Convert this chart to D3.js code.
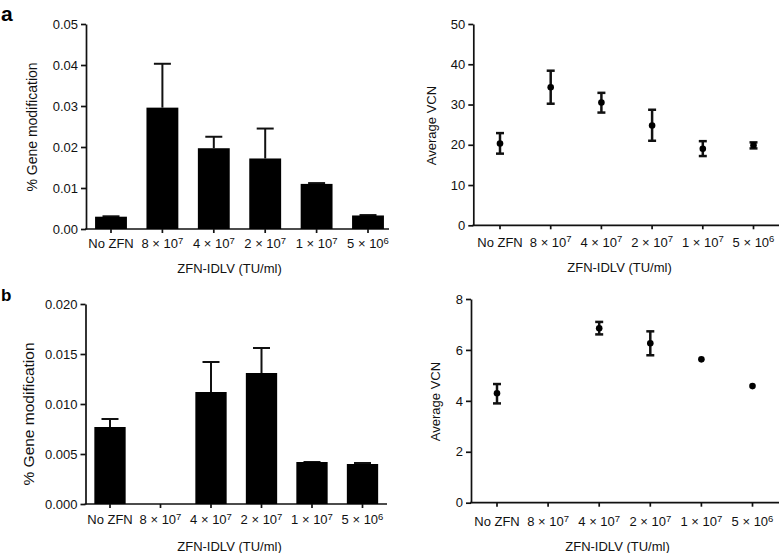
<!DOCTYPE html>
<html>
<head>
<meta charset="utf-8">
<script src="https://cdn.jsdelivr.net/npm/d3@7"></script>
<style>
  html, body { margin: 0; padding: 0; background: #fff; }
  svg { display: block; font-family: "Liberation Sans", Arial, Helvetica, sans-serif; }
</style>
</head>
<body>
<svg id="chart" width="780" height="553"></svg>
<script>
// ---------- data ----------
const categories = ["No ZFN", "8 × 10^7", "4 × 10^7", "2 × 10^7", "1 × 10^7", "5 × 10^6"];
const xTitle = "ZFN-IDLV (TU/ml)";

// panel a, left: % gene modification (bar + upper error)
const aGeneMod     = [0.0030, 0.0296, 0.0197, 0.0172, 0.0110, 0.0033];
const aGeneModErr  = [0.0031, 0.0403, 0.0225, 0.0245, 0.0112, 0.0034];
const aGeneTicks   = [0, 0.01, 0.02, 0.03, 0.04, 0.05];

// panel a, right: average VCN (mean, low, high)
const aVCN      = [20.3, 34.3, 30.5, 24.8, 19.0, 19.9];
const aVCNLow   = [17.8, 30.2, 28.0, 21.0, 17.2, 19.1];
const aVCNHigh  = [22.9, 38.4, 32.9, 28.7, 20.9, 20.6];
const aVCNTicks = [0, 10, 20, 30, 40, 50];

// panel b, left
const bGeneMod    = [0.0077, null, 0.0112, 0.0131, 0.0042, 0.0040];
const bGeneModErr = [0.0085, null, 0.0142, 0.0156, 0.0042, 0.0041];
const bGeneTicks  = [0, 0.005, 0.010, 0.015, 0.020];

// panel b, right
const bVCN      = [4.30, null, 6.85, 6.26, 5.63, 4.58];
const bVCNLow   = [3.90, null, 6.61, 5.79, 5.63, 4.58];
const bVCNHigh  = [4.66, null, 7.10, 6.73, 5.63, 4.58];
const bVCNTicks = [0, 2, 4, 6, 8];

// ---------- drawing ----------
const svg = d3.select("#chart");
const ink = "#111";

function addTickLabel(sel) {
  sel.each(function(d) {
    const t = d3.select(this);
    t.text(null);
    const parts = d.split("^");
    t.append("tspan").text(parts[0]);
    if (parts.length > 1) {
      t.append("tspan").attr("dy", "-0.45em").attr("font-size", "9.5px").text(parts[1]);
    }
  });
}

function panel(cfg) {
  const g = svg.append("g");
  const x = d3.scaleBand().domain(categories)
    .range([cfg.r0, cfg.r0 + 6 * cfg.step])
    .paddingInner(0.38).paddingOuter(0.19);
  const y = d3.scaleLinear().domain([0, cfg.ticks[cfg.ticks.length - 1]])
    .range([cfg.yBottom, cfg.yTop]);

  // y axis
  const ya = g.append("g").attr("transform", `translate(${cfg.axisX},0)`)
    .call(d3.axisLeft(y).tickValues(cfg.ticks).tickFormat(d3.format(cfg.fmt))
      .tickSize(5).tickSizeOuter(0).tickPadding(3));
  ya.selectAll("path, line").attr("stroke", ink).attr("stroke-width", 1.7);
  ya.selectAll("text").attr("font-size", "13px").attr("fill", ink).attr("font-family", null);

  // x axis
  const xa = g.append("g").attr("transform", `translate(0,${cfg.yBottom})`)
    .call(d3.axisBottom(x).tickSize(4).tickSizeOuter(0).tickPadding(cfg.xPad));
  xa.select(".domain").remove();
  xa.selectAll("line").attr("stroke", ink).attr("stroke-width", 1.7);
  xa.selectAll("text").attr("font-size", "13px").attr("fill", ink).attr("font-family", null)
    .call(addTickLabel);
  g.append("line")
    .attr("x1", cfg.axisX - 0.85).attr("x2", cfg.axisEnd)
    .attr("y1", cfg.yBottom).attr("y2", cfg.yBottom)
    .attr("stroke", ink).attr("stroke-width", 1.7);

  const rows = categories.map((c, i) => ({ c, v: cfg.values[i], hi: cfg.hi[i], lo: cfg.lo ? cfg.lo[i] : null }))
    .filter(d => d.v !== null);

  if (cfg.type === "bar") {
    // error (upper only)
    const eg = g.append("g").attr("stroke", ink).attr("stroke-width", 2);
    rows.forEach(d => {
      const cx = x(d.c) + x.bandwidth() / 2;
      eg.append("line").attr("x1", cx).attr("x2", cx).attr("y1", y(d.v)).attr("y2", y(d.hi));
      eg.append("line").attr("x1", cx - 8.5).attr("x2", cx + 8.5).attr("y1", y(d.hi)).attr("y2", y(d.hi));
    });
    g.append("g").selectAll("rect").data(rows).join("rect")
      .attr("x", d => x(d.c)).attr("width", x.bandwidth())
      .attr("y", d => y(d.v)).attr("height", d => y(0) - y(d.v))
      .attr("fill", "#000");
  } else {
    const eg = g.append("g").attr("stroke", ink).attr("stroke-width", 2.5);
    rows.forEach(d => {
      const cx = x(d.c) + x.bandwidth() / 2;
      if (d.hi !== d.lo) {
        eg.append("line").attr("x1", cx).attr("x2", cx).attr("y1", y(d.lo)).attr("y2", y(d.hi));
        eg.append("line").attr("x1", cx - 4).attr("x2", cx + 4).attr("y1", y(d.hi)).attr("y2", y(d.hi));
        eg.append("line").attr("x1", cx - 4).attr("x2", cx + 4).attr("y1", y(d.lo)).attr("y2", y(d.lo));
      }
    });
    g.append("g").selectAll("circle").data(rows).join("circle")
      .attr("cx", d => x(d.c) + x.bandwidth() / 2).attr("cy", d => y(d.v))
      .attr("r", 3.3).attr("fill", "#000");
  }

  // titles
  g.append("text").attr("x", cfg.xtX).attr("y", cfg.xtY)
    .attr("text-anchor", "middle").attr("font-size", "13px").attr("fill", ink).text(xTitle);
  g.append("text")
    .attr("transform", `translate(${cfg.ytX},${cfg.ytY}) rotate(-90)`)
    .attr("text-anchor", "middle").attr("dominant-baseline", "central")
    .attr("font-size", cfg.ytSize).attr("fill", ink).text(cfg.yTitle);
}

panel({ type: "bar", values: aGeneMod, hi: aGeneModErr, ticks: aGeneTicks, fmt: ".2f",
  r0: 85.3, step: 51.4, axisX: 86, axisEnd: 389, yBottom: 229, yTop: 24, xPad: 6,
  xtX: 229.5, xtY: 272.5, ytX: 31.5, ytY: 127, ytSize: "14px", yTitle: "% Gene modification" });

panel({ type: "point", values: aVCN, hi: aVCNHigh, lo: aVCNLow, ticks: aVCNTicks, fmt: "d",
  r0: 474.65, step: 50.7, axisX: 473.3, axisEnd: 779, yBottom: 225.3, yTop: 24, xPad: 8,
  xtX: 619.5, xtY: 272, ytX: 431.5, ytY: 125.5, ytSize: "13px", yTitle: "Average VCN" });

panel({ type: "bar", values: bGeneMod, hi: bGeneModErr, ticks: bGeneTicks, fmt: ".3f",
  r0: 84.75, step: 50.5, axisX: 85.5, axisEnd: 387, yBottom: 504, yTop: 304, xPad: 7,
  xtX: 229.5, xtY: 551, ytX: 28.5, ytY: 414, ytSize: "15.5px", yTitle: "% Gene modification" });

panel({ type: "point", values: bVCN, hi: bVCNHigh, lo: bVCNLow, ticks: bVCNTicks, fmt: "d",
  r0: 471.45, step: 51.1, axisX: 471, axisEnd: 779, yBottom: 502.7, yTop: 299, xPad: 10,
  xtX: 617.5, xtY: 550.5, ytX: 435, ytY: 401.5, ytSize: "13px", yTitle: "Average VCN" });

// panel letters
svg.append("text").attr("x", 1).attr("y", 21).attr("font-size", "21px").attr("font-weight", "bold")
  .attr("fill", "#000").text("a");
svg.append("text").attr("x", 1).attr("y", 301).attr("font-size", "17px").attr("font-weight", "bold")
  .attr("fill", "#000").text("b");
</script>
</body>
</html>
